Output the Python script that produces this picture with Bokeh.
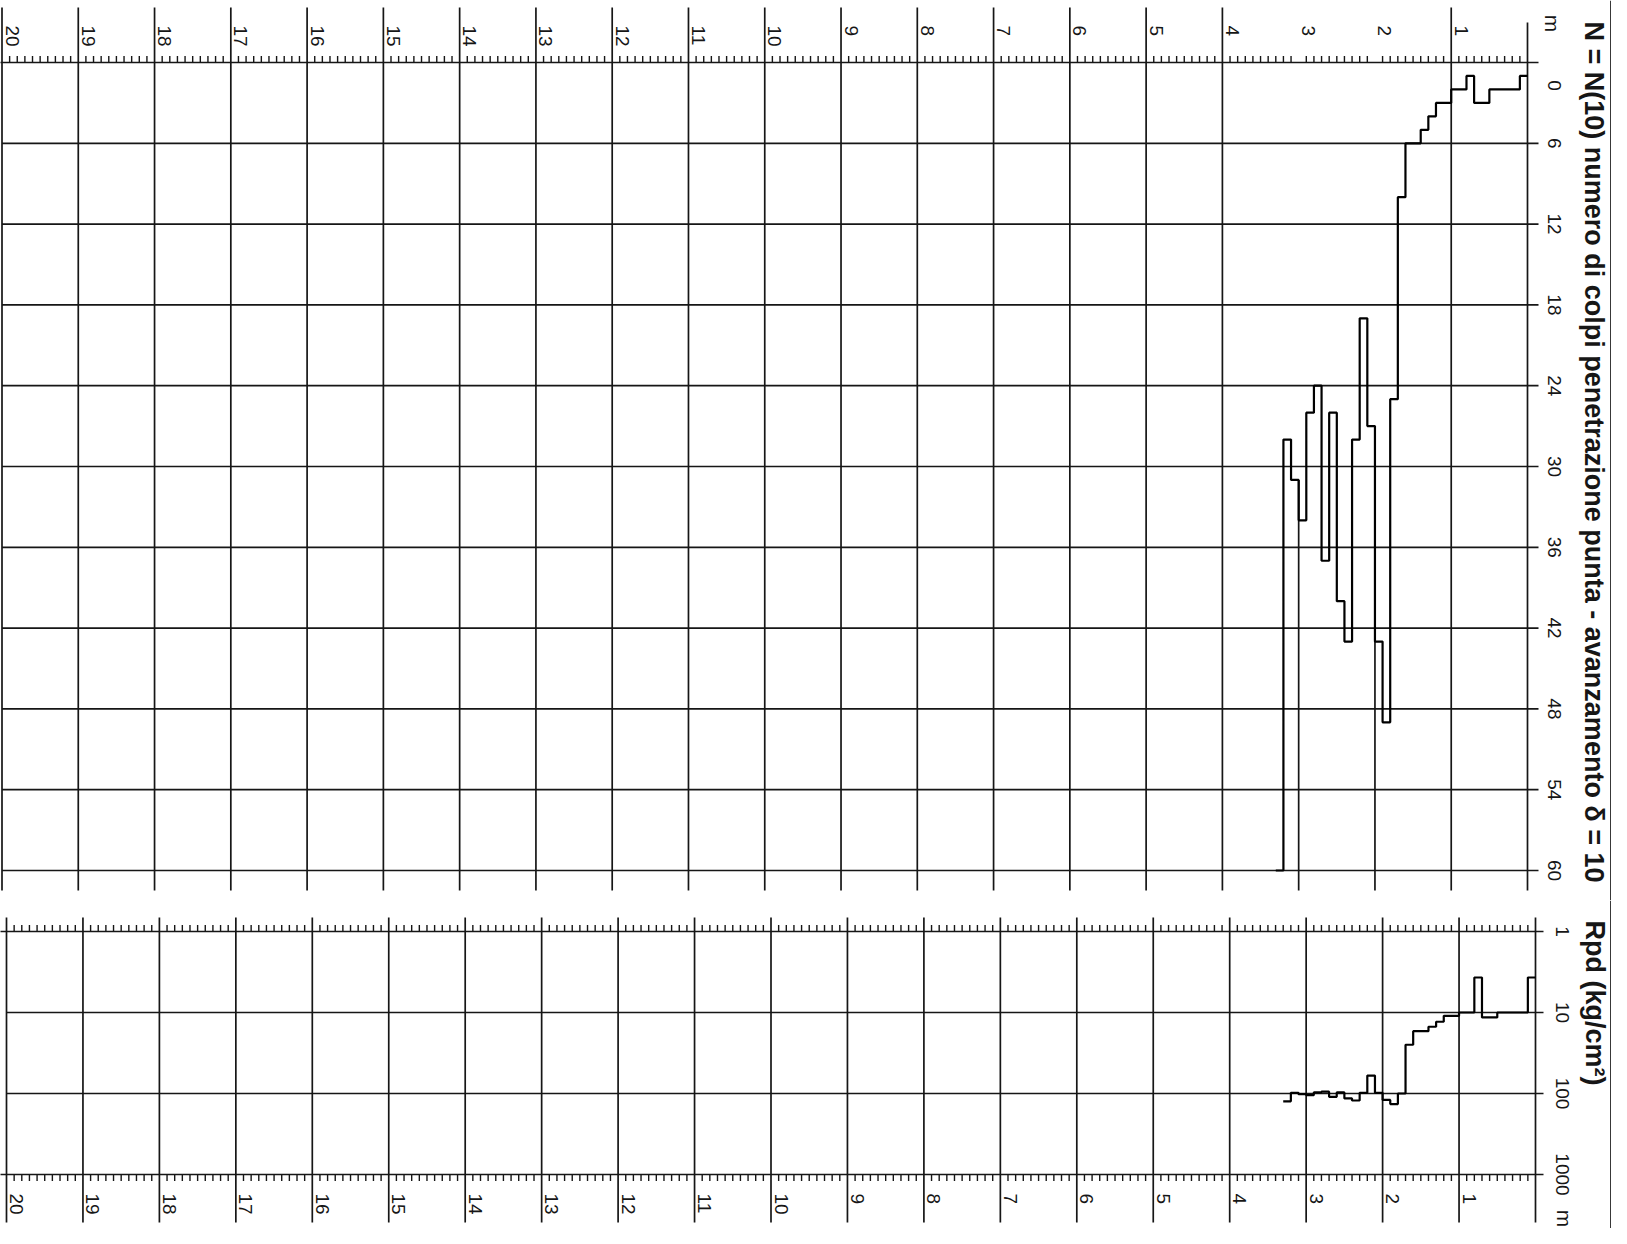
import math
from bokeh.plotting import figure
from bokeh.models import Range1d
from bokeh.layouts import column
from bokeh.embed import file_html
from bokeh.resources import INLINE
from bokeh.core.properties import value

# ---------------- data ----------------
# top of each 10 cm penetration step (m); the last step ends at 3.3 m
depth_from = [0.0, 0.1, 0.2, 0.3, 0.4, 0.5, 0.6, 0.7, 0.8, 0.9,
              1.0, 1.1, 1.2, 1.3, 1.4, 1.5, 1.6, 1.7, 1.8, 1.9,
              2.0, 2.1, 2.2, 2.3, 2.4, 2.5, 2.6, 2.7, 2.8, 2.9,
              3.0, 3.1, 3.2]
depth_end = 3.3

# N = N(10) blows per 10 cm of tip advance
n_blows = [1, 2, 2, 2, 2, 3, 3, 1, 2, 2,
           3, 3, 4, 5, 6, 6, 10, 25, 49, 43,
           27, 19, 28, 43, 40, 26, 37, 24, 26, 34,
           31, 28, 60]

# Rpd (kg/cm2) dynamic point resistance
rpd = [3.7, 10, 10, 10, 10, 11.5, 11.5, 3.7, 10, 10,
       11, 11, 13, 15, 17, 17, 25, 100, 135, 120,
       98, 60, 98, 122, 115, 97, 110, 95, 97, 105,
       102, 98, 125]

depth_ticks = list(range(0, 21))
depth_labels = [str(m) for m in depth_ticks]
n_ticks = [0, 6, 12, 18, 24, 30, 36, 42, 48, 54, 60]
n_labels = ["0", "6", "12", "18", "24", "30", "36", "42", "48", "54", "60"]
rpd_ticks = [1, 10, 100, 1000]
rpd_labels = ["1", "10", "100", "1000"]

title_n = "N = N(10)  numero di colpi penetrazione punta  -  avanzamento  \u03b4 = 10"
title_rpd = "Rpd (kg/cm\u00b2)"
unit_m = "m"

# ---------------- layout / style ----------------
MARGIN = 8
FIG_W = 1611
TOP_H = 900
BOT_H = 328
TOP_X20, TOP_X0 = 9.5, 1535.0
BOT_X20, BOT_X0 = 14.0, 1543.0
N0_Y, N60_Y = 70.0, 878.0
R1_Y, R1000_Y = 939.0, 1182.0
INK = "#161616"
GRID_W = 1.7
CURVE_W = 2.2
FONT = "Liberation Sans"
ROT = -math.pi / 2
TICK_FS = "19px"
TITLE_FS = "27px"

top_xs = (TOP_X0 - TOP_X20) / 20.0
bot_xs = (BOT_X0 - BOT_X20) / 20.0
n_s = (N60_Y - N0_Y) / 60.0
r_s = (R1000_Y - R1_Y) / 3.0


def top_d(px):
    return (TOP_X0 - px) / top_xs


def bot_d(px):
    return (BOT_X0 - px) / bot_xs


def top_n(py):
    return (py - N0_Y) / n_s


def bot_r(py):
    return 10 ** ((py - R1_Y) / r_s)


def make_fig(h, xr, yr, log=False):
    kw = dict(width=FIG_W, height=h, x_range=xr, y_range=yr,
              output_backend="svg", toolbar_location=None,
              x_axis_location=None, y_axis_location=None,
              min_border=0, outline_line_color=None,
              background_fill_color="white", border_fill_color="white")
    if log:
        kw["y_axis_type"] = "log"
    p = figure(**kw)
    p.grid.visible = False
    return p


def label(p, xs, ys, texts, size, align="center", bold=False, **kw):
    p.text(x=xs, y=ys, text=texts, angle=ROT, text_align=align,
           text_baseline="middle", text_font=value(FONT), text_font_size=size,
           text_font_style="bold" if bold else "normal", text_color=INK, **kw)


# ================= top panel: N =================
top = make_fig(TOP_H,
               Range1d(top_d(MARGIN), top_d(MARGIN + FIG_W)),
               Range1d(top_n(MARGIN + TOP_H), top_n(MARGIN)))

# vertical grid lines (one per metre)
vx, vy0, vy1 = [], [], []
for m in depth_ticks:
    y0 = top_n(15) if m > 0 else top_n(30)
    if 0 < m < depth_end:
        i = depth_from.index(float(m))
        adj = min(n_blows[i - 1], n_blows[i])
        if adj > 6:
            y0 = adj
    vx.append(m)
    vy0.append(y0)
    vy1.append(top_n(898))
top.segment(x0=vx, y0=vy0, x1=vx, y1=vy1, line_color=INK, line_width=GRID_W)

# horizontal grid lines
hx0 = [top_d(0) if n == 0 else 20 for n in n_ticks]
hx1 = [top_d(1546) for n in n_ticks]
top.segment(x0=hx0, y0=n_ticks, x1=hx1, y1=n_ticks, line_color=INK, line_width=GRID_W)

# minor ticks on the depth axis (every 10 cm)
mt = [k / 10 for k in range(0, 201) if k % 10 != 0]
top.segment(x0=mt, y0=[0] * len(mt), x1=mt, y1=[top_n(63.5)] * len(mt),
            line_color=INK, line_width=1.4)

# N step profile
top.step(x=depth_from + [depth_end], y=n_blows + [n_blows[-1]], mode="after",
         line_color="black", line_width=CURVE_W)

# depth labels above
label(top, depth_ticks[1:], [top_n(33)] * 20, depth_labels[1:], TICK_FS,
      align="left", x_offset=10)

# N tick labels on the right
lab_x = top_d(1562)
label(top, [lab_x] * (len(n_ticks) - 1), n_ticks[1:], n_labels[1:], TICK_FS)
label(top, [lab_x], [n_ticks[0]], [n_labels[0]], TICK_FS, y_offset=23)
label(top, [top_d(1560)], [top_n(31)], [unit_m], "21px")

# axis title
label(top, [top_d(1601)], [top_n(29)], [title_n], TITLE_FS, align="left", bold=True)

# right frame line
top.segment(x0=[top_d(1618.5)], y0=[top_n(MARGIN)], x1=[top_d(1618.5)],
            y1=[top_n(MARGIN + TOP_H)], line_color=INK, line_width=GRID_W)

# ================= bottom panel: Rpd =================
bot = make_fig(BOT_H,
               Range1d(bot_d(MARGIN), bot_d(MARGIN + FIG_W)),
               Range1d(bot_r(MARGIN + TOP_H + BOT_H), bot_r(MARGIN + TOP_H)),
               log=True)

bot.segment(x0=depth_ticks, y0=[bot_r(925)] * 21, x1=depth_ticks,
            y1=[bot_r(1230)] * 21, line_color=INK, line_width=GRID_W)

rx0 = [bot_d(7) if r in (1, 1000) else 20 for r in rpd_ticks]
rx1 = [bot_d(1551) for r in rpd_ticks]
bot.segment(x0=rx0, y0=rpd_ticks, x1=rx1, y1=rpd_ticks, line_color=INK, line_width=GRID_W)

bot.segment(x0=mt, y0=[1] * len(mt), x1=mt, y1=[bot_r(932.5)] * len(mt),
            line_color=INK, line_width=1.4)
bot.segment(x0=mt, y0=[1000] * len(mt), x1=mt, y1=[bot_r(1188.5)] * len(mt),
            line_color=INK, line_width=1.4)

bot.step(x=depth_from + [depth_end], y=rpd + [rpd[-1]], mode="after",
         line_color="black", line_width=CURVE_W)

label(bot, depth_ticks[1:], [bot_r(1201)] * 20, depth_labels[1:], TICK_FS,
      align="left", x_offset=10)
label(bot, [bot_d(1570)] * 4, rpd_ticks, rpd_labels, TICK_FS)
label(bot, [bot_d(1572)], [bot_r(1226)], [unit_m], "21px")
label(bot, [bot_d(1602)], [bot_r(928)], [title_rpd], TITLE_FS, align="left", bold=True)

bot.segment(x0=[bot_d(1618.5)], y0=[bot_r(MARGIN + TOP_H)], x1=[bot_d(1618.5)],
            y1=[bot_r(MARGIN + TOP_H + BOT_H)], line_color=INK, line_width=GRID_W)

layout = column(top, bot, spacing=0)
open("out.html", "w").write(file_html(layout, INLINE))
